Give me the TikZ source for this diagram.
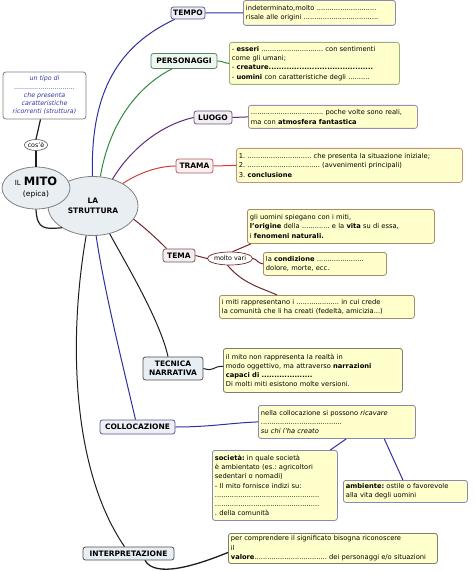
\documentclass[tikz,border=0pt]{standalone}
\usepackage{fontspec}
\setmainfont{DejaVu Sans}
\usetikzlibrary{calc}
\usetikzlibrary{shapes}
\usepackage{xcolor}
\frenchspacing

\definecolor{noteyellow}{HTML}{FFFFCC}
\definecolor{ellfill}{HTML}{E9EEF3}
\definecolor{topicgrey}{HTML}{E7EEF4}
\definecolor{defblue}{HTML}{3434A6}
\definecolor{linkblue}{HTML}{2F2FA0}
\definecolor{linkgreen}{HTML}{2E8A3E}
\definecolor{linkpurple}{HTML}{5E2A78}
\definecolor{linkred}{HTML}{D43C3C}
\definecolor{linkmaroon}{HTML}{74262A}
\definecolor{linkblack}{HTML}{1E1E1E}
\definecolor{edgeblue}{HTML}{8888B4}
\definecolor{edgegreen}{HTML}{98B07A}
\definecolor{edgepurple}{HTML}{A28AAE}
\definecolor{edgered}{HTML}{C8907A}
\definecolor{edgebrown}{HTML}{A88A6A}
\definecolor{edgegrey}{HTML}{7E7E70}

\begin{document}
\begin{tikzpicture}[x=1pt,y=-1pt,
  topic/.style={draw=#1!50!gray, fill=#1!8!white, rounded corners=2.5pt, line width=0.8pt,
    inner sep=0pt, align=center, font=\fontsize{7.5}{8.7}\selectfont\bfseries},
  note/.style={draw=#1, fill=noteyellow, rounded corners=2.5pt, line width=0.8pt,
    inner sep=2.5pt, align=left, anchor=north west, font=\fontsize{6.7}{9.3}\selectfont},
  link/.style={draw=#1, line width=1pt}]

\useasboundingbox (0,0) rectangle (474,572);

\newcommand{\notebox}[7]{
  \node[note=#6, text width=#4pt, minimum height=#5pt] (#1) at (#2,#3) {#7};
}

% the two central ellipses
\node[ellipse, draw=gray, fill=ellfill, line width=0.8pt, minimum width=90pt, minimum height=59pt,
  inner sep=0pt, align=center, font=\fontsize{7.5}{9.5}\selectfont\bfseries] (str) at (93,206) {LA\\STRUTTURA};
\node[ellipse, draw=gray, fill=ellfill, line width=0.8pt, minimum width=68pt, minimum height=42pt,
  inner sep=0pt, align=center] (mito) at (36,188)
  {{\fontsize{7}{8}\selectfont IL} {\fontsize{11.5}{12}\selectfont\bfseries MITO}\\[-1pt]{\fontsize{7.5}{9}\selectfont (epica)}};

\node[ellipse, draw=gray!80!black, fill=white, line width=0.7pt, minimum width=22pt, minimum height=11pt,
  inner sep=0pt, font=\fontsize{6.3}{7}\selectfont] (cose) at (36,145) {cos'è};
\node[draw=gray, fill=white, rounded corners=3pt, line width=0.8pt, minimum width=83pt, minimum height=47pt,
  inner sep=0pt, align=center, text=defblue, font=\fontsize{6.3}{8}\selectfont\itshape] (def) at (44.5,95.5)
  {un tipo di\\[1pt]..............................\\che presenta\\caratteristiche\\ricorrenti (struttura)};

\draw[link=linkblack, line width=1.2pt] (mito.south) .. controls (37,230) and (45,229) .. (str.215);
\draw[link=linkblack, line width=1.2pt] (mito.north) -- (cose.south);
\draw[link=linkblack, line width=1.2pt] (cose.north) -- ([xshift=-4pt]def.south);

% topics
\node[topic=linkblue, minimum width=34pt, minimum height=12pt] (tempo) at (188,13) {TEMPO};
\node[topic=linkgreen, minimum width=66pt, minimum height=15pt] (pers) at (184,61) {PERSONAGGI};
\node[topic=linkpurple, minimum width=38pt, minimum height=13pt] (luogo) at (213,117.5) {LUOGO};
\node[topic=linkred, minimum width=37pt, minimum height=14pt] (trama) at (194.5,166) {TRAMA};
\node[topic=linkmaroon, minimum width=32pt, minimum height=13pt] (tema) at (179,255.5) {TEMA};
\node[topic=linkblack, fill=topicgrey, minimum width=60pt, minimum height=23pt] (tecn) at (173,368.5) {TECNICA\\NARRATIVA};
\node[topic=linkblue, minimum width=75pt, minimum height=14pt] (coll) at (137.5,427) {COLLOCAZIONE};
\node[topic=linkblack, fill=topicgrey, minimum width=91pt, minimum height=13pt] (interp) at (128.5,553.5) {INTERPRETAZIONE};

\node[ellipse, draw=linkmaroon, fill=white, line width=0.7pt, minimum width=42pt, minimum height=13pt,
  inner sep=0pt, font=\fontsize{6.3}{7}\selectfont] (vari) at (230,258.5) {molto vari};

% notes
\notebox{tempotxt}{243}{0}{147}{25}{edgeblue}{indeterminato,molto ............................\\risale alle origini ...................................}
\notebox{perstxt}{229}{42}{165}{42}{edgegreen}{- \textbf{esseri} ............................. con sentimenti\\come gli umani;\\- \textbf{creature.........................................}\\- \textbf{uomini} con caratteristiche degli ..........}
\notebox{luogotxt}{248}{105}{164}{23}{edgepurple}{.................................. poche volte sono reali,\\ma con \textbf{atmosfera fantastica}}
\notebox{tramatxt}{236}{148}{221}{34}{edgered}{1. .............................. che presenta la situazione iniziale;\\2. .................................. (avvenimenti principali)\\3. \textbf{conclusione}}
\notebox{temaa}{247}{209}{182}{34}{edgebrown}{gli uomini spiegano con i miti,\\\textbf{l'origine} della ............. e la \textbf{vita} su di essa,\\i \textbf{fenomeni naturali.}}
\notebox{temab}{263}{252}{118}{23}{edgebrown}{la \textbf{condizione} ......................\\dolore, morte, ecc.}
\notebox{temac}{219}{295}{190}{23}{edgebrown}{i miti rappresentano i .................... in cui crede\\la comunità che li ha creati (fedeltà, amicizia...)}
\notebox{tecntxt}{223}{348}{174}{44}{edgegrey}{il mito non rappresenta la realtà in\\modo oggettivo, ma attraverso \textbf{narrazioni}\\\textbf{capaci di ....................}\\Di molti miti esistono molte versioni.}
\notebox{colltxt}{258}{405}{152}{33}{edgeblue}{nella collocazione si possono \textit{ricavare}\\......................................\\\textit{su chi l'ha creato}}
\notebox{soctxt}{212}{450}{120}{70}{edgeblue}{\textbf{società:} in quale società\\è ambientato (es.: agricoltori\\sedentari o nomadi)\\- Il mito fornisce indizi su:\\.................................................\\.................................................\\. della comunità}
\notebox{ambtxt}{343}{480}{119}{22}{edgeblue}{\textbf{ambiente:} ostile o favorevole\\alla vita degli uomini}
\notebox{interptxt}{228}{533}{204}{25}{edgegrey}{per comprendere il significato bisogna riconoscere\\il\\\textbf{valore}.................................. dei personaggi e/o situazioni}

% branches out of LA STRUTTURA
\draw[link=linkblue] (str.91) .. controls (90,90) and (120,45) .. ([xshift=4pt]tempo.south west);
\draw[link=linkgreen] (str.76) .. controls (110,120) and (140,85) .. ([xshift=-12pt]pers.south);
\draw[link=linkpurple] (str.54) .. controls (130,150) and (160,125) .. (luogo.west);
\draw[link=linkred] (str.37) .. controls (140,172) and (160,166) .. (trama.west);
\draw[link=linkmaroon] (str.-18) .. controls (150,232) and (160,242) .. ([xshift=4pt]tema.north west);
\draw[link=linkblack] (str.-59) .. controls (125,262) and (160,320) .. ([xshift=-5pt]tecn.north);
\draw[link=linkblue] (str.-84) .. controls (104,290) and (124,370) .. ([xshift=-2pt]coll.north);
\draw[link=linkblack] (str.-103) .. controls (68,340) and (72,470) .. ([xshift=-4pt]interp.north);

% topic to note
\draw[link=linkblue] (tempo.east) -- (tempotxt.west);
\draw[link=linkgreen] (pers.east) .. controls (224,61) and (223,63) .. (perstxt.west);
\draw[link=linkpurple] (luogo.east) -- (luogotxt.west);
\draw[link=linkred] (trama.east) -- (tramatxt.west);
\draw[link=linkmaroon] (tema.east) -- (vari.west);
\draw[link=linkmaroon] (vari.70) -- ([xshift=4pt]temaa.south west);
\draw[link=linkmaroon] (vari.east) .. controls (257,259) and (257,263) .. (temab.west);
\draw[link=linkmaroon] (vari.-110) .. controls (243,284) and (262,288) .. ([xshift=58pt]temac.north west);
\draw[link=linkblack] (tecn.east) .. controls (215,372) and (212,366) .. ([yshift=4pt]tecntxt.west);
\draw[link=linkblue] (coll.east) .. controls (210,427) and (230,423) .. (colltxt.west);
\draw[link=linkblue] ($(colltxt.south west)!0.56!(colltxt.south east)$) -- ($(soctxt.north west)!0.94!(soctxt.north east)$);
\draw[link=linkblue] ($(colltxt.south west)!0.8!(colltxt.south east)$) -- ($(ambtxt.north west)!0.48!(ambtxt.north east)$);
\draw[link=linkblack, line width=1.3pt] ([xshift=16.5pt]interp.south) .. controls (155,578) and (195,566) .. ([yshift=-4pt]interptxt.west);

\end{tikzpicture}
\end{document}
